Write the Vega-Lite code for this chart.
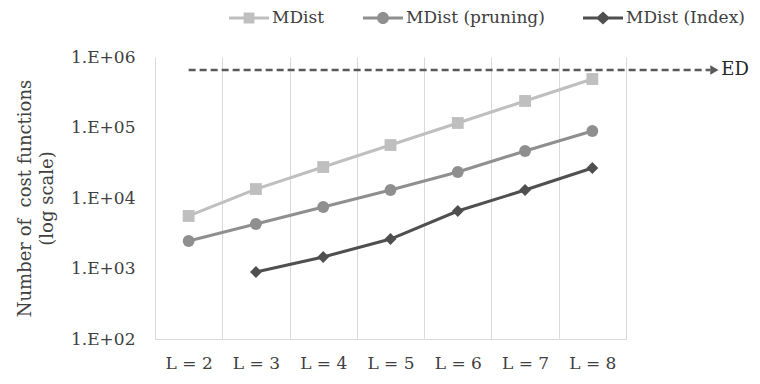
{
  "$schema": "https://vega.github.io/schema/vega-lite/v6.json",
  "width": 471,
  "height": 282,
  "autosize": {"type": "none"},
  "padding": {"left": 155, "top": 57, "right": 134, "bottom": 45},
  "config": {"view": {"stroke": null}, "font": "DejaVu Serif"},
  "datasets": {
    "series": [
      {"L": "L = 2", "series": "MDist", "value": 5560},
      {"L": "L = 3", "series": "MDist", "value": 13400},
      {"L": "L = 4", "series": "MDist", "value": 27500},
      {"L": "L = 5", "series": "MDist", "value": 56400},
      {"L": "L = 6", "series": "MDist", "value": 115800},
      {"L": "L = 7", "series": "MDist", "value": 237700},
      {"L": "L = 8", "series": "MDist", "value": 487000},
      {"L": "L = 2", "series": "MDist (pruning)", "value": 2455},
      {"L": "L = 3", "series": "MDist (pruning)", "value": 4280},
      {"L": "L = 4", "series": "MDist (pruning)", "value": 7450},
      {"L": "L = 5", "series": "MDist (pruning)", "value": 12980},
      {"L": "L = 6", "series": "MDist (pruning)", "value": 23380},
      {"L": "L = 7", "series": "MDist (pruning)", "value": 46450},
      {"L": "L = 8", "series": "MDist (pruning)", "value": 89100},
      {"L": "L = 3", "series": "MDist (Index)", "value": 891},
      {"L": "L = 4", "series": "MDist (Index)", "value": 1456},
      {"L": "L = 5", "series": "MDist (Index)", "value": 2620},
      {"L": "L = 6", "series": "MDist (Index)", "value": 6540},
      {"L": "L = 7", "series": "MDist (Index)", "value": 12980},
      {"L": "L = 8", "series": "MDist (Index)", "value": 26650}
    ],
    "ed": [
      {"from": "L = 2", "to": "L = 8", "value": 654000, "label": "ED"}
    ]
  },
  "layer": [
    {
      "data": {"name": "series"},
      "mark": {"type": "line", "strokeWidth": 3},
      "encoding": {
        "x": {
          "field": "L", "type": "ordinal",
          "scale": {"type": "band", "domain": ["L = 2", "L = 3", "L = 4", "L = 5", "L = 6", "L = 7", "L = 8"], "paddingInner": 0, "paddingOuter": 0},
          "axis": {"title": null, "tickBand": "extent", "grid": true, "gridColor": "#d9d9d9", "gridWidth": 1, "ticks": false, "domainColor": "#d9d9d9", "labelFont": "DejaVu Serif", "labelFontSize": 17, "labelColor": "#404040", "labelPadding": 16, "labelAngle": 0}
        },
        "y": {
          "field": "value", "type": "quantitative",
          "scale": {"type": "log", "domain": [100, 1000000]},
          "axis": {"title": ["Number of\u00a0 cost functions", "(log scale)"], "values": [100, 1000, 10000, 100000, 1000000], "labelExpr": "'1.E+0' + round(log(datum.value)/LN10)", "grid": false, "ticks": false, "domain": false, "labelFont": "DejaVu Serif", "labelFontSize": 17, "labelColor": "#404040", "labelPadding": 20, "titleFont": "DejaVu Serif", "titleFontSize": 18, "titleFontWeight": "normal", "titleColor": "#404040", "titlePadding": 14, "titleLineHeight": 22}
        },
        "color": {"field": "series", "type": "nominal", "scale": {"domain": ["MDist", "MDist (pruning)", "MDist (Index)"], "range": ["#bfbfbf", "#8f8f8f", "#4f4f4f"]}, "legend": null}
      }
    },
    {
      "data": {"name": "series"},
      "mark": {"type": "point", "filled": true, "opacity": 1, "size": 140},
      "encoding": {
        "x": {"field": "L", "type": "ordinal"},
        "y": {"field": "value", "type": "quantitative"},
        "color": {"field": "series", "type": "nominal", "scale": {"domain": ["MDist", "MDist (pruning)", "MDist (Index)"], "range": ["#bfbfbf", "#8f8f8f", "#4f4f4f"]}, "legend": null},
        "shape": {"field": "series", "type": "nominal", "scale": {"domain": ["MDist", "MDist (pruning)", "MDist (Index)"], "range": ["square", "circle", "diamond"]}, "legend": null}
      }
    },
    {
      "data": {"name": "series"},
      "mark": {"type": "point", "filled": true, "opacity": 0},
      "encoding": {
        "x": {"field": "L", "type": "ordinal"},
        "y": {"field": "value", "type": "quantitative"},
        "color": {"field": "series", "type": "nominal", "scale": {"domain": ["MDist", "MDist (pruning)", "MDist (Index)"], "range": ["#bfbfbf", "#8f8f8f", "#4f4f4f"]}},
        "shape": {
          "field": "series", "type": "nominal",
          "scale": {"domain": ["MDist", "MDist (pruning)", "MDist (Index)"], "range": [
            "M-1,-0.075H1V0.075H-1Z M-0.27,-0.27H0.27V0.27H-0.27Z",
            "M-1,-0.075H1V0.075H-1Z M-0.3,0A0.3,0.3 0 1,1 0.3,0A0.3,0.3 0 1,1 -0.3,0Z",
            "M-1,-0.075H1V0.075H-1Z M0,-0.33L0.35,0L0,0.33L-0.35,0Z"
          ]},
          "legend": {"title": null, "orient": "none", "legendX": 74, "legendY": -59, "direction": "horizontal", "symbolSize": 1600, "symbolStrokeWidth": 0, "symbolOpacity": 1, "labelFont": "DejaVu Serif", "labelFontSize": 17, "labelColor": "#404040", "columnPadding": 38, "labelOffset": 3}
        }
      }
    },
    {
      "data": {"name": "ed"},
      "mark": {"type": "rule", "strokeDash": [7, 4], "strokeWidth": 2.5, "color": "#595959", "x2Offset": 118},
      "encoding": {
        "x": {"field": "from", "type": "ordinal"},
        "x2": {"field": "to"},
        "y": {"field": "value", "type": "quantitative"}
      }
    },
    {
      "data": {"name": "ed"},
      "mark": {"type": "point", "shape": "triangle-right", "filled": true, "opacity": 1, "color": "#595959", "size": 90, "xOffset": 122},
      "encoding": {
        "x": {"field": "to", "type": "ordinal"},
        "y": {"field": "value", "type": "quantitative"}
      }
    },
    {
      "data": {"name": "ed"},
      "mark": {"type": "text", "align": "left", "baseline": "middle", "font": "DejaVu Serif", "fontSize": 18, "color": "#262626", "xOffset": 129},
      "encoding": {
        "x": {"field": "to", "type": "ordinal"},
        "y": {"field": "value", "type": "quantitative"},
        "text": {"field": "label"}
      }
    }
  ],
  "resolve": {"scale": {"color": "independent", "shape": "independent"}}
}
